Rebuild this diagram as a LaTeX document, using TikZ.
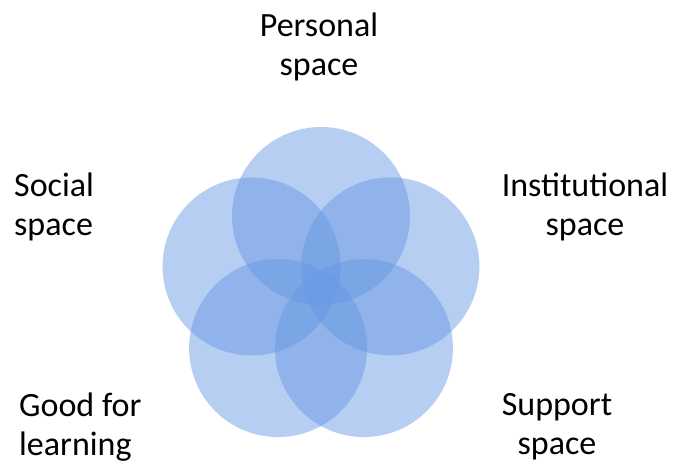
\documentclass[tikz,border=0pt]{standalone}
\usepackage{fontspec}
\setmainfont{Carlito}
\usepackage{tikz}
\usetikzlibrary{calc}
\definecolor{petalblue}{RGB}{100,150,226}
\tikzset{>=stealth}

\begin{document}
\begin{tikzpicture}[x=1pt, y=-1pt]
      \tikzset{petal/.style = {fill=petalblue, fill opacity=.47}}
      \tikzset{spacelabel/.style = {inner sep=0pt, font=\fontsize{34}{39}\selectfont}}

      \useasboundingbox (0,0) rectangle (681,466);
      \coordinate (C) at (321,289);

      % y axis points down, so the angles run clockwise
      \foreach \a in {270,198,126,54,342}
        \fill [petal] ($(C)+(\a:73)$) circle (89);

      \node [spacelabel, align=center] (personal) at (319,47) {Personal\\space};
      \node [spacelabel, align=left, anchor=west] (social) at (14,207) {Social\\space};
      \node [spacelabel, align=center] (institutional) at (585,207) {Institutional\\space};
      \node [spacelabel, align=left, anchor=west] (learning) at (19,427) {Good for\\learning};
      \node [spacelabel, align=center] (support) at (557,427) {Support\\space};
    \end{tikzpicture}
\end{document}
